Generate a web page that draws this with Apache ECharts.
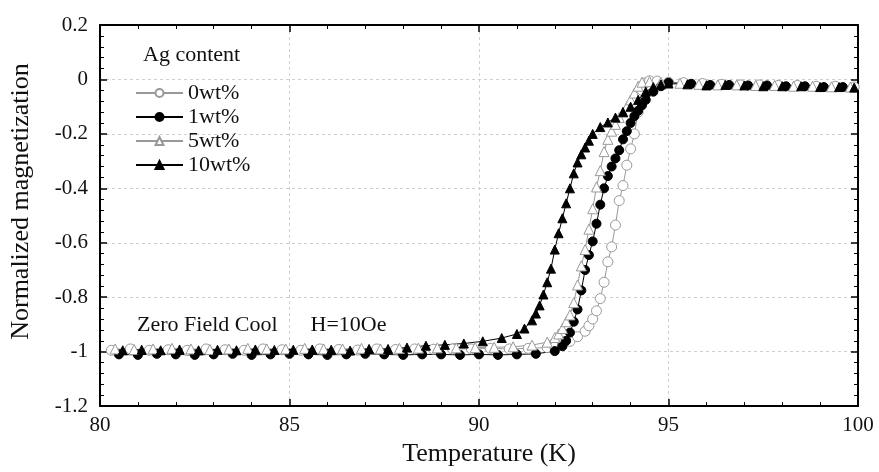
<!DOCTYPE html>
<html>
<head>
<meta charset="utf-8">
<title>Normalized magnetization vs temperature</title>
<script src="https://cdn.jsdelivr.net/npm/echarts@6/dist/echarts.min.js"></script>
<style>
  html, body { margin: 0; padding: 0; background: #fff; }
  #chart { width: 879px; height: 472px; }
</style>
</head>
<body>
<div id="chart"></div>
<script>
// Ag content series, [temperature K, normalized magnetization]
const ag0 = [
  [80.3, -0.995], [80.8, -0.99], [81.3, -0.995], [81.8, -0.993], [82.3, -0.995], [82.8, -0.99],
  [83.3, -0.993], [83.8, -0.995], [84.3, -0.99], [84.8, -0.993], [85.3, -0.995], [85.8, -0.99],
  [86.3, -0.992], [86.8, -0.994], [87.3, -0.99], [87.8, -0.992], [88.3, -0.99], [88.8, -0.991],
  [89.3, -0.99], [89.8, -0.99], [90.3, -0.988], [90.8, -0.99], [91.3, -0.988], [91.8, -0.985],
  [92.0, -0.982], [92.2, -0.975], [92.4, -0.962], [92.6, -0.945], [92.8, -0.925], [92.9, -0.905],
  [93.0, -0.88], [93.1, -0.85], [93.2, -0.805], [93.3, -0.745], [93.4, -0.67], [93.5, -0.615],
  [93.6, -0.535], [93.7, -0.445], [93.8, -0.39], [93.9, -0.315], [94.0, -0.255], [94.1, -0.2],
  [94.2, -0.12], [94.3, -0.04], [94.4, -0.012], [94.5, -0.005], [94.7, -0.006], [95.0, -0.01],
  [95.4, -0.012], [95.9, -0.015], [96.4, -0.018], [96.9, -0.02], [97.4, -0.02], [97.9, -0.022],
  [98.4, -0.022], [98.9, -0.025], [99.4, -0.025], [99.9, -0.028]
];
const ag1 = [
  [80.5, -1.01], [81.0, -1.012], [81.5, -1.008], [82.0, -1.01], [82.5, -1.012], [83.0, -1.01],
  [83.5, -1.008], [84.0, -1.012], [84.5, -1.01], [85.0, -1.008], [85.5, -1.01], [86.0, -1.012],
  [86.5, -1.01], [87.0, -1.008], [87.5, -1.01], [88.0, -1.012], [88.5, -1.01], [89.0, -1.01],
  [89.5, -1.012], [90.0, -1.01], [90.5, -1.012], [91.0, -1.01], [91.5, -1.008], [92.0, -0.998],
  [92.2, -0.98], [92.3, -0.96], [92.4, -0.93], [92.5, -0.89], [92.6, -0.845], [92.7, -0.775],
  [92.8, -0.7], [92.9, -0.645], [93.0, -0.595], [93.1, -0.53], [93.2, -0.46], [93.3, -0.4],
  [93.4, -0.355], [93.5, -0.32], [93.6, -0.29], [93.7, -0.26], [93.8, -0.22], [93.9, -0.19],
  [94.0, -0.16], [94.1, -0.135], [94.2, -0.115], [94.3, -0.095], [94.4, -0.075], [94.6, -0.045],
  [94.8, -0.025], [95.0, -0.012], [95.6, -0.016], [96.1, -0.02], [96.6, -0.02], [97.1, -0.022],
  [97.6, -0.022], [98.1, -0.025], [98.6, -0.025], [99.1, -0.028], [99.6, -0.028]
];
const ag5 = [
  [80.4, -0.99], [80.9, -0.992], [81.4, -0.99], [81.9, -0.988], [82.4, -0.99], [82.9, -0.992],
  [83.4, -0.99], [83.9, -0.988], [84.4, -0.99], [84.9, -0.99], [85.4, -0.988], [85.9, -0.99],
  [86.4, -0.99], [86.9, -0.988], [87.4, -0.99], [87.9, -0.988], [88.4, -0.987], [88.9, -0.986],
  [89.4, -0.986], [89.9, -0.985], [90.4, -0.984], [90.9, -0.982], [91.4, -0.976], [91.8, -0.965],
  [92.0, -0.948], [92.1, -0.935], [92.2, -0.915], [92.3, -0.89], [92.4, -0.865], [92.5, -0.82],
  [92.6, -0.755], [92.7, -0.685], [92.8, -0.625], [92.9, -0.55], [93.0, -0.475], [93.1, -0.395],
  [93.2, -0.335], [93.3, -0.265], [93.4, -0.22], [93.5, -0.19], [93.6, -0.165], [93.7, -0.14],
  [93.8, -0.12], [93.9, -0.1], [94.0, -0.075], [94.1, -0.05], [94.2, -0.025], [94.3, -0.01],
  [94.5, -0.008], [94.8, -0.01], [95.3, -0.014], [95.8, -0.018], [96.3, -0.02], [96.8, -0.02],
  [97.3, -0.022], [97.8, -0.022], [98.3, -0.025], [98.8, -0.025], [99.3, -0.027], [99.8, -0.028]
];
const ag10 = [
  [80.6, -0.995], [81.1, -0.993], [81.6, -0.995], [82.1, -0.992], [82.6, -0.995], [83.1, -0.993],
  [83.6, -0.995], [84.1, -0.992], [84.6, -0.994], [85.1, -0.993], [85.6, -0.992], [86.1, -0.993],
  [86.6, -0.996], [87.1, -0.99], [87.6, -0.99], [88.1, -0.985], [88.6, -0.978], [89.1, -0.975],
  [89.6, -0.97], [90.1, -0.962], [90.6, -0.95], [91.0, -0.935], [91.2, -0.915], [91.4, -0.885],
  [91.5, -0.86], [91.6, -0.83], [91.7, -0.79], [91.8, -0.745], [91.9, -0.695], [92.0, -0.625],
  [92.1, -0.565], [92.2, -0.51], [92.3, -0.455], [92.4, -0.4], [92.5, -0.345], [92.6, -0.305],
  [92.7, -0.275], [92.8, -0.25], [92.9, -0.225], [93.0, -0.2], [93.2, -0.175], [93.4, -0.158],
  [93.6, -0.14], [93.8, -0.12], [94.0, -0.1], [94.2, -0.075], [94.4, -0.045], [94.6, -0.028],
  [94.8, -0.018], [95.0, -0.015], [95.5, -0.018], [96.0, -0.022], [96.5, -0.02], [97.0, -0.022],
  [97.5, -0.025], [98.0, -0.025], [98.5, -0.025], [99.0, -0.028], [99.5, -0.028], [99.9, -0.03]
];
const seriesNames = ['0wt%', '1wt%', '5wt%', '10wt%'];

const serif = 'Liberation Serif, Times New Roman, serif';
const chart = echarts.init(document.getElementById('chart'));

function frameAxis(pos, showLabel) {
  return {
    type: 'value',
    position: pos,
    axisLine: { show: true, onZero: false, lineStyle: { color: '#000', width: 2 } },
    axisTick: { show: true, inside: true, length: 7, lineStyle: { color: '#000', width: 1.5 } },
    minorTick: { show: true, splitNumber: 5, length: 4, lineStyle: { color: '#000', width: 1 } },
    axisLabel: { show: showLabel, color: '#111', fontSize: 21, fontFamily: serif },
    splitLine: { show: showLabel, lineStyle: { color: '#cfcfcf', width: 1, type: [3, 3] } }
  };
}

function lineSeries(name, data, symbol, filled) {
  return {
    name: name,
    type: 'line',
    data: data,
    symbol: symbol,
    symbolSize: filled ? 9 : 10,
    showAllSymbol: true,
    lineStyle: { width: 1, color: filled ? '#000' : '#999' },
    itemStyle: {
      color: filled ? '#000' : '#fff',
      borderColor: filled ? '#000' : '#999',
      borderWidth: 1
    }
  };
}

const xBottom = Object.assign(frameAxis('bottom', true), {
  min: 80, max: 100, interval: 5,
  name: 'Temperature (K)', nameLocation: 'middle', nameGap: 33,
  nameTextStyle: { fontSize: 26, color: '#111', fontFamily: serif, padding: [0, 0, 0, 20] }
});
xBottom.axisLabel.margin = 9;
const xTop = Object.assign(frameAxis('top', false), { min: 80, max: 100, interval: 5 });

const yLeft = Object.assign(frameAxis('left', true), {
  min: -1.2, max: 0.2, interval: 0.2,
  name: 'Normalized magnetization', nameLocation: 'middle', nameGap: 66,
  nameTextStyle: { fontSize: 26, color: '#111', fontFamily: serif, padding: [0, 0, 0, 28] }
});
yLeft.axisLabel.margin = 12;
const yRight = Object.assign(frameAxis('right', false), { min: -1.2, max: 0.2, interval: 0.2 });

chart.setOption({
  animation: false,
  backgroundColor: '#fff',
  textStyle: { fontFamily: serif },
  grid: { left: 98, right: 21, top: 25, bottom: 61 },
  xAxis: [xBottom, xTop],
  yAxis: [yLeft, yRight],
  legend: {
    data: seriesNames,
    orient: 'vertical',
    left: 130,
    top: 76,
    itemWidth: 47,
    itemHeight: 10,
    itemGap: 0,
    textStyle: { fontSize: 22, color: '#111', fontFamily: serif, lineHeight: 24 }
  },
  graphic: [
    { type: 'text', left: 143, top: 44, style: { text: 'Ag content', fontSize: 22, fill: '#111', fontFamily: serif } },
    { type: 'text', left: 137, top: 314, style: { text: 'Zero Field Cool      H=10Oe', fontSize: 22, fill: '#111', fontFamily: serif } }
  ],
  series: [
    lineSeries(seriesNames[0], ag0, 'circle', false),
    lineSeries(seriesNames[1], ag1, 'circle', true),
    lineSeries(seriesNames[2], ag5, 'triangle', false),
    lineSeries(seriesNames[3], ag10, 'triangle', true)
  ]
});

window.addEventListener('resize', () => chart.resize());
</script>
</body>
</html>
